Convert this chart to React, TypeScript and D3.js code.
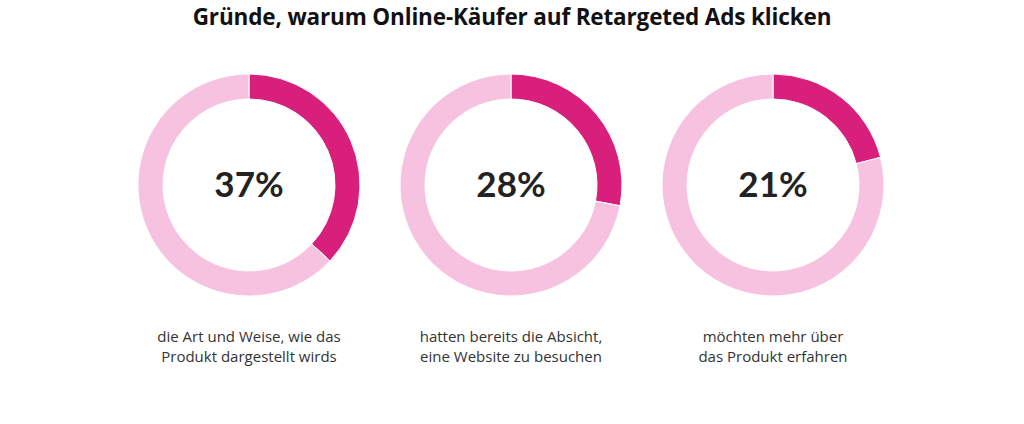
import * as d3 from "d3";

const title = "Gründe, warum Online-Käufer auf Retargeted Ads klicken";
const values = [37, 28, 21];
const labels = [
  ["die Art und Weise, wie das", "Produkt dargestellt wirds"],
  ["hatten bereits die Absicht,", "eine Website zu besuchen"],
  ["möchten mehr über", "das Produkt erfahren"],
];

const width = 1024;
const height = 424;
const centerY = 185;
const outerR = 111;
const innerR = 86;
const dark = "#d71f7b";
const light = "#f6c2df";

export default function App() {
  const x = d3.scalePoint<number>().domain(d3.range(values.length)).range([249, 773]);
  const pie = d3.pie<number>().sort(null).value((d) => d);
  const arc = d3.arc<d3.PieArcDatum<number>>().innerRadius(innerR).outerRadius(outerR);

  return (
    <svg
      width={width}
      height={height}
      style={{ position: "absolute", left: 0, top: 0, background: "#fff", fontFamily: "'Open Sans', sans-serif" }}
    >
      <text x={width / 2} y={25} textAnchor="middle" fontSize={22.5} fontWeight={700} fill="#111" letterSpacing={-0.15}>
        {title}
      </text>
      {values.map((v, i) => {
        const arcs = pie([v, 100 - v]);
        return (
          <g key={i} transform={`translate(${x(i)},${centerY})`}>
            {arcs.map((a, j) => (
              <path key={j} d={arc(a) ?? ""} fill={j === 0 ? dark : light} stroke="#fff" strokeWidth={1} />
            ))}
            <text y={12} textAnchor="middle" fontSize={35} fontWeight={700} fill="#222" fontFamily="Lato, sans-serif">
              {v}%
            </text>
            {labels[i].map((l, k) => (
              <text key={k} y={157 + k * 20} textAnchor="middle" fontSize={15} fill="#333">
                {l}
              </text>
            ))}
          </g>
        );
      })}
    </svg>
  );
}
